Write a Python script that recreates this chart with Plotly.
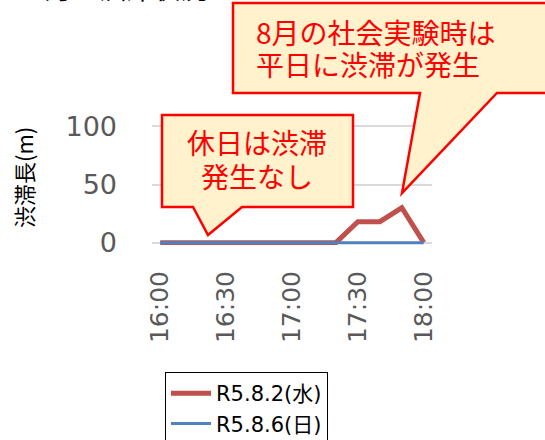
import plotly.graph_objects as go

# ---- data ----
minutes = [0, 10, 20, 30, 40, 50, 60, 70, 80, 90, 100, 110, 120]
wed_values = [0, 0, 0, 0, 0, 0, 0, 0, 0, 18, 18, 30, 0]
sun_values = [0, 0, 0, 0, 0, 0, 0, 0, 0, 0, 0, 0, 0]
tick_vals = [0, 30, 60, 90, 120]
tick_text = ["16:00", "16:30", "17:00", "17:30", "18:00"]
series_names = ["R5.8.2(水)", "R5.8.6(日)"]

W, H = 545, 440
PL, PR, PT, PB = 152, 432, 124, 245

def X(px):
    return (px - PL) / (PR - PL)

def Y(py):
    return (PB - py) / (PB - PT)

def path(pts):
    return "M " + " L ".join(f"{X(a):.5f},{Y(b):.5f}" for a, b in pts) + " Z"

FONT = "DejaVu Sans, Noto Sans CJK JP"
JP = "Noto Sans CJK JP, DejaVu Sans"

fig = go.Figure()
fig.add_trace(go.Scatter(x=minutes, y=wed_values, mode="lines", name=series_names[0],
                         line=dict(color="#C0504D", width=5)))
fig.add_trace(go.Scatter(x=minutes, y=sun_values, mode="lines", name=series_names[1],
                         line=dict(color="#4F81BD", width=3)))

fig.update_layout(
    width=W, height=H,
    margin=dict(l=PL, r=W - PR, t=PT, b=H - PB, pad=0, autoexpand=False),
    paper_bgcolor="white", plot_bgcolor="white",
    font=dict(family=FONT, color="#595959"),
    showlegend=True,
    legend=dict(x=X(165), y=Y(372), xanchor="left", yanchor="top",
                bordercolor="black", borderwidth=1, bgcolor="white",
                font=dict(size=21, color="black", family=FONT),
                itemwidth=40, tracegroupgap=0),
    xaxis=dict(range=[-3.75, 123.75], tickvals=tick_vals, ticktext=tick_text,
               tickangle=-90, tickfont=dict(size=25, color="#595959"),
               showgrid=False, zeroline=False, showline=False, automargin=False,
               ticks="", ticklabelstandoff=20),
    yaxis=dict(range=[-2, 102], tickvals=[0, 50, 100],
               tickfont=dict(size=27, color="#595959"),
               showgrid=True, gridcolor="#D9D9D9", gridwidth=1.5, automargin=False,
               zeroline=False, showline=False, ticks="", ticklabelstandoff=34),
)

fill = "#FFF2CC"
red = "#FF0000"
fig.add_shape(type="path", xref="paper", yref="paper",
              path=path([(233, 3), (570, 3), (570, 93), (497, 93), (402, 193), (420, 93), (233, 93)]),
              fillcolor=fill, line=dict(color=red, width=2.5), layer="above")
fig.add_shape(type="path", xref="paper", yref="paper",
              path=path([(162, 115), (353, 115), (353, 207), (242, 207), (208, 235), (193, 207), (162, 207)]),
              fillcolor=fill, line=dict(color=red, width=2.5), layer="above")

def ann(text, px, py, size, color, xanchor="left", family=JP):
    fig.add_annotation(text=text, x=X(px), y=Y(py), xref="paper", yref="paper",
                       xanchor=xanchor, yanchor="middle", showarrow=False,
                       font=dict(size=size, color=color, family=family))

ann("8月の社会実験時は", 254, 32, 28, red)
ann("平日に渋滞が発生", 254, 64, 28, red)
ann("休日は渋滞", 257, 142, 28, red, xanchor="center")
ann("発生なし", 257, 176, 28, red, xanchor="center")
ann("8月の渋滞状況", 28, -13, 27, "black")

fig.add_annotation(text="渋滞長(m)", x=X(23), y=Y(178), xref="paper", yref="paper",
                   xanchor="center", yanchor="middle", showarrow=False, textangle=-90,
                   font=dict(size=22, color="black", family=JP))

fig.write_html("out.html")
